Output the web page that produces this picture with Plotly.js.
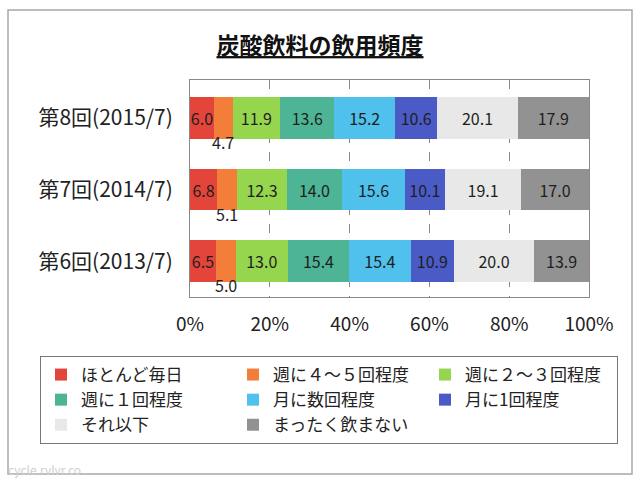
<!DOCTYPE html>
<html>
<head>
<meta charset="utf-8">
<script src="https://cdn.plot.ly/plotly-3.0.1.min.js"></script>
<style>
  body { margin: 0; background: #fff; }
  #chart { width: 640px; height: 480px; }
</style>
</head>
<body>
<div id="chart"></div>
<script>
// rounds, top to bottom
const rounds = ['第8回(2015/7)', '第7回(2014/7)', '第6回(2013/7)'];

const freqNames = ['ほとんど毎日', '週に４～５回程度', '週に２～３回程度', '週に１回程度',
  '月に数回程度', '月に1回程度', 'それ以下', 'まったく飲まない'];

// percent per round (8th, 7th, 6th)
const almostDaily = [6.0, 6.8, 6.5];
const week4to5 = [4.7, 5.1, 5.0];
const week2to3 = [11.9, 12.3, 13.0];
const weekOnce = [13.6, 14.0, 15.4];
const monthFew = [15.2, 15.6, 15.4];
const monthOnce = [10.6, 10.1, 10.9];
const lessThan = [20.1, 19.1, 20.0];
const never = [17.9, 17.0, 13.9];

const xTicks = [0, 20, 40, 60, 80, 100];
const xTickText = ['0%', '20%', '40%', '60%', '80%', '100%'];

const series = [almostDaily, week4to5, week2to3, weekOnce, monthFew, monthOnce, lessThan, never];
const colors = ['#E4453B', '#F37E3A', '#96D64E', '#4DB596', '#4FC1EC', '#4B5BC6', '#E8E8E8', '#929292'];

const traces = series.map((vals, i) => ({
  type: 'bar',
  orientation: 'h',
  name: freqNames[i],
  y: rounds,
  x: vals,
  marker: { color: colors[i], line: { width: 0 } },
  texttemplate: i === 1 ? '' : '%{x:.1f}',
  textposition: 'inside',
  insidetextanchor: 'middle',
  textangle: 0,
  constraintext: 'none',
  textfont: { size: 16, color: '#1e1e1e' },
  hoverinfo: 'skip'
}));

// the narrow orange series gets its labels under the bar
const underLabels = rounds.map((r, j) => ({
  x: almostDaily[j] + week4to5[j] / 2,
  y: r,
  xref: 'x', yref: 'y',
  text: week4to5[j].toFixed(1),
  showarrow: false,
  yshift: -24,
  font: { size: 16, color: '#1e1e1e' }
}));

const m = { l: 190, r: 51, t: 80, b: 183 };
const pw = 640 - m.l - m.r, ph = 480 - m.t - m.b;
const px = v => (v - m.l) / pw;          // pixel -> paper x
const py = v => (480 - m.b - v) / ph;    // pixel -> paper y

const layout = {
  width: 640, height: 480,
  margin: m,
  paper_bgcolor: '#fff',
  plot_bgcolor: '#fff',
  font: { family: '"Noto Sans CJK JP", "Noto Sans", sans-serif', color: '#222' },
  title: {
    text: '<b><u>炭酸飲料の飲用頻度</u></b>',
    font: { size: 23, color: '#111' },
    x: 0.5, xref: 'container',
    y: 1 - 46 / 480, yref: 'container', yanchor: 'middle'
  },
  barmode: 'stack',
  bargap: 0.42,
  xaxis: {
    range: [0, 100],
    tickmode: 'array',
    tickvals: xTicks,
    ticktext: xTickText,
    tickfont: { size: 19, color: '#222' },
    showgrid: true,
    gridcolor: '#888',
    griddash: 'dash',
    gridwidth: 1,
    showline: true, mirror: true, linecolor: '#888', linewidth: 1,
    zeroline: false,
    ticks: '',
    ticklabelstandoff: 10,
    fixedrange: true
  },
  yaxis: {
    autorange: 'reversed',
    tickfont: { size: 21, color: '#222' },
    showline: true, mirror: true, linecolor: '#888', linewidth: 1,
    showgrid: false,
    ticks: '',
    ticklabelstandoff: 12,
    fixedrange: true
  },
  legend: {
    orientation: 'h',
    x: px(40), xanchor: 'left',
    y: py(356), yanchor: 'top',
    bordercolor: '#777', borderwidth: 1,
    entrywidth: 147, entrywidthmode: 'pixels',
    font: { size: 17, color: '#222' },
    traceorder: 'normal'
  },
  annotations: underLabels.concat([{
    text: 'cycle.rvlvr.co',
    xref: 'paper', yref: 'paper',
    x: px(6), y: py(469), xanchor: 'left', yanchor: 'middle',
    showarrow: false,
    font: { size: 12, color: '#d0d0d0' }
  }]),
  shapes: [{
    type: 'rect', xref: 'paper', yref: 'paper',
    x0: px(8), x1: px(632), y0: py(10), y1: py(474),
    line: { color: '#a8a8a8', width: 1.5 },
    layer: 'below'
  }],
  showlegend: true
};

Plotly.newPlot('chart', traces, layout, { displayModeBar: false, staticPlot: true });
</script>
</body>
</html>
